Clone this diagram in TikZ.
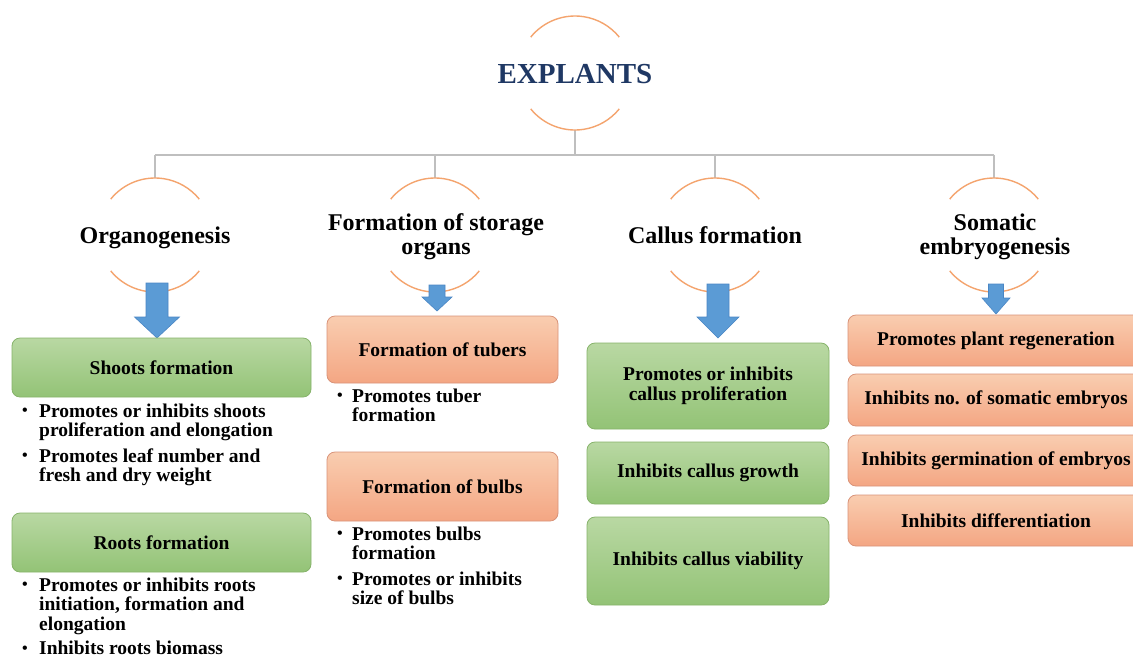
\documentclass[tikz,border=0pt]{standalone}
\usepackage{fontspec}
\setmainfont{Liberation Serif}
\usetikzlibrary{calc}
\definecolor{arcc}{HTML}{F4A46E}
\definecolor{connc}{HTML}{BFBFBF}
\definecolor{navy}{HTML}{1F3864}
\definecolor{gtop}{HTML}{B9D8A3}
\definecolor{gbot}{HTML}{93C376}
\definecolor{gbrd}{HTML}{86B36A}
\definecolor{otop}{HTML}{F9CDB0}
\definecolor{obot}{HTML}{F4A683}
\definecolor{obrd}{HTML}{D99379}
\definecolor{afill}{HTML}{5B9BD5}
\definecolor{adraw}{HTML}{4A86C4}
\tikzset{
 conn/.style={draw=connc, line width=1.8pt},
 arcline/.style={draw=arcc, line width=1.4pt},
 head/.style={font=\bfseries\fontsize{24}{24}\selectfont, align=center, inner sep=0pt},
 gbox/.style={rectangle, rounded corners=8pt, top color=gtop, bottom color=gbot, draw=gbrd, line width=0.8pt, font=\bfseries\fontsize{19.5}{20}\selectfont, align=center, inner sep=0pt},
 obox/.style={gbox, top color=otop, bottom color=obot, draw=obrd},
 blist/.style={anchor=north west, inner sep=0pt, font=\bfseries\fontsize{19.5}{19.5}\selectfont},
 barrow/.style={fill=afill, draw=adraw, line width=0.6pt},
}
\newcommand\halfArcs[1]{%
 \draw[arcline] ($(#1)+(-141:57)$) arc[start angle=-141,end angle=-39,radius=57];
 \draw[arcline] ($(#1)+(141:57)$) arc[start angle=141,end angle=39,radius=57];}
% cx, shaft half width, top, head start, head half width, tip
\newcommand\bArrow[6]{%
 \draw[barrow] ({#1-#2},#3) -- ({#1+#2},#3) -- ({#1+#2},#4) -- ({#1+#5},#4) -- (#1,#6) -- ({#1-#5},#4) -- ({#1-#2},#4) -- cycle;}
\newcommand\blt{\raisebox{1.5pt}{\fontsize{16}{16}\selectfont\textbullet}}
\begin{document}
\begin{tikzpicture}[x=1pt,y=-1pt]
\useasboundingbox (0,0) rectangle (1133,657);
\clip (0,0) rectangle (1133,657);
\fill[white] (0,0) rectangle (1133,657);

% circle centres
\coordinate (cE) at (575,73);
\coordinate (cO) at (155,235);
\coordinate (cS) at (435,235);
\coordinate (cC) at (715,235);
\coordinate (cM) at (994,235);

% connectors
\coordinate (eB) at (575,130);
\coordinate (jE) at (575,155);
\coordinate (jO) at (155,155);
\coordinate (jS) at (435,155);
\coordinate (jC) at (715,155);
\coordinate (jM) at (994,155);
\coordinate (tO) at (155,178);
\coordinate (tS) at (435,178);
\coordinate (tC) at (715,178);
\coordinate (tM) at (994,178);
\draw[conn] (eB) -- (jE);
\draw[conn] (jO) -- (jM);
\draw[conn] (jO) -- (tO);
\draw[conn] (jS) -- (tS);
\draw[conn] (jC) -- (tC);
\draw[conn] (jM) -- (tM);

% arcs
\halfArcs{cE}
\halfArcs{cO}
\halfArcs{cS}
\halfArcs{cC}
\halfArcs{cM}

% headings
\node[font=\bfseries\fontsize{29}{29}\selectfont, text=navy, inner sep=0pt, anchor=base] (expl) at (575,83) {EXPLANTS};
\node[head, anchor=base] (org) at (155,243) {Organogenesis};
\node[head] (sto) at (436,237) {Formation of storage\\organs};
\node[head, anchor=base] (cal) at (715,243) {Callus formation};
\node[head] (som) at (995,237) {Somatic\\embryogenesis};

% blue arrows
\bArrow{157}{11}{283}{317}{22.5}{338}
\bArrow{437}{8}{285}{297}{15}{311}
\bArrow{718}{11}{284}{317}{21}{338}
\bArrow{996}{7.5}{284}{298}{14}{314}

% organogenesis column
\node[gbox, minimum width=299pt, minimum height=59pt] (shoot) at (161.5,367.5) {Shoots formation};
\node[blist] (shootL) at (22,403.4) {\begin{tabular}{@{}l@{}l@{}}
\makebox[17pt][l]{\blt} & Promotes or inhibits shoots\\
 & proliferation and elongation\\[6pt]
\blt & Promotes leaf number and\\
 & fresh and dry weight
\end{tabular}};
\node[gbox, minimum width=299pt, minimum height=59pt] (root) at (161.5,542.5) {Roots formation};
\node[blist] (rootL) at (22,577.4) {\begin{tabular}{@{}l@{}l@{}}
\makebox[17pt][l]{\blt} & Promotes or inhibits roots\\
 & initiation, formation and\\
 & elongation\\[5pt]
\blt & Inhibits roots biomass
\end{tabular}};

% storage organs column
\node[obox, minimum width=231pt, minimum height=67pt] (tub) at (442.5,349.5) {Formation of tubers};
\node[blist] (tubL) at (337,388.4) {\begin{tabular}{@{}l@{}l@{}}
\makebox[15pt][l]{\blt} & Promotes tuber\\
 & formation
\end{tabular}};
\node[obox, minimum width=231pt, minimum height=69pt] (bulb) at (442.5,486.5) {Formation of bulbs};
\node[blist] (bulbL) at (337,526.4) {\begin{tabular}{@{}l@{}l@{}}
\makebox[15pt][l]{\blt} & Promotes bulbs\\
 & formation\\[6pt]
\blt & Promotes or inhibits\\
 & size of bulbs
\end{tabular}};

% callus column
\node[gbox, minimum width=242pt, minimum height=86pt] (cal1) at (708,386) {Promotes or inhibits\\callus proliferation};
\node[gbox, minimum width=242pt, minimum height=62pt] (cal2) at (708,473) {Inhibits callus growth};
\node[gbox, minimum width=242pt, minimum height=88pt] (cal3) at (708,561) {Inhibits callus viability};

% somatic column
\node[obox, minimum width=296pt, minimum height=51pt] (som1) at (996,340.5) {Promotes plant regeneration};
\node[obox, minimum width=296pt, minimum height=52pt] (som2) at (996,400) {Inhibits no. of somatic embryos};
\node[obox, minimum width=296pt, minimum height=51pt] (som3) at (996,460.5) {Inhibits germination of embryos};
\node[obox, minimum width=296pt, minimum height=51pt] (som4) at (996,520.5) {Inhibits differentiation};
\end{tikzpicture}
\end{document}
